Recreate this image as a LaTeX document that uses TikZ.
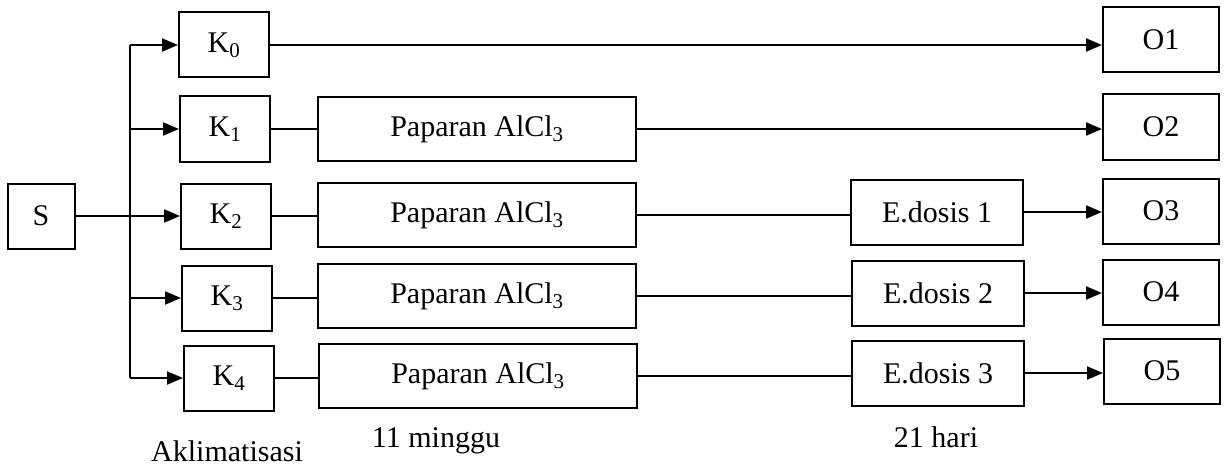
\documentclass[tikz,border=0pt]{standalone}
\usepackage{fontspec}
\setmainfont{Liberation Serif}
\usetikzlibrary{arrows.meta}
\begin{document}
\begin{tikzpicture}[x=1pt,y=-1pt,
  box/.style={draw, line width=2pt, inner sep=0pt, font=\fontsize{30}{35}\selectfont},
  kbox/.style={box, minimum width=90pt, minimum height=65pt},
  pbox/.style={box, minimum width=318pt, minimum height=64pt},
  ebox/.style={box, minimum width=172pt, minimum height=65pt},
  obox/.style={box, minimum width=116pt, minimum height=65pt},
  lab/.style={font=\fontsize{30}{35}\selectfont, inner sep=0pt},
  ln/.style={line width=2pt},
  arr/.style={line width=2pt, -{Triangle[length=16pt,width=13pt]}}]
\useasboundingbox (0,0) rectangle (1225,468);
% nodes
\node[box, minimum width=67pt, minimum height=65pt] (S) at (41,216) {S};
\node[kbox] (K0) at (224,45) {K\textsubscript{0}};
\node[kbox] (K1) at (225,129) {K\textsubscript{1}};
\node[kbox] (K2) at (226,216) {K\textsubscript{2}};
\node[kbox] (K3) at (227,298) {K\textsubscript{3}};
\node[kbox] (K4) at (229,378) {K\textsubscript{4}};
\node[pbox] (P1) at (477,129) {Paparan AlCl\textsubscript{3}};
\node[pbox] (P2) at (477,215) {Paparan AlCl\textsubscript{3}};
\node[pbox] (P3) at (477,296) {Paparan AlCl\textsubscript{3}};
\node[pbox] (P4) at (478,376) {Paparan AlCl\textsubscript{3}};
\node[ebox] (E1) at (937,212) {E.dosis 1};
\node[ebox] (E2) at (938,293) {E.dosis 2};
\node[ebox] (E3) at (938,373) {E.dosis 3};
\node[obox] (O1) at (1161,40) {O1};
\node[obox] (O2) at (1161,127) {O2};
\node[obox] (O3) at (1161,211) {O3};
\node[obox] (O4) at (1161,292) {O4};
\node[obox] (O5) at (1162,371) {O5};
\node[lab] (L1) at (227,451) {Aklimatisasi};
\node[lab] (L2) at (436,441) {11 minggu};
\node[lab] (L3) at (936,437) {21 hari};
% bus
\coordinate (B0) at (130,45);
\coordinate (B4) at (130,378);
\draw[ln] (B0) -- (B4);
\draw[arr] (B0) -- (K0.west);
\draw[arr] (130,129) -- (K1.west);
\draw[arr] (S.east) -- (S.east -| K2.west);
\draw[arr] (130,298) -- (K3.west);
\draw[arr] (B4) -- (K4.west);
% rows
\draw[arr] (K0.east) -- (K0.east -| O1.west);
\draw[ln] (K1.east) -- (K1.east -| P1.west);
\draw[arr] (P1.east) -- (P1.east -| O2.west);
\draw[ln] (K2.east) -- (K2.east -| P2.west);
\draw[ln] (P2.east) -- (P2.east -| E1.west);
\draw[arr] (E1.east) -- (E1.east -| O3.west);
\draw[ln] (K3.east) -- (K3.east -| P3.west);
\draw[ln] (P3.east) -- (P3.east -| E2.west);
\draw[arr] (E2.east) -- (E2.east -| O4.west);
\draw[ln] (K4.east) -- (K4.east -| P4.west);
\draw[ln] (P4.east) -- (P4.east -| E3.west);
\draw[arr] (E3.east) -- (E3.east -| O5.west);
\end{tikzpicture}
\end{document}
